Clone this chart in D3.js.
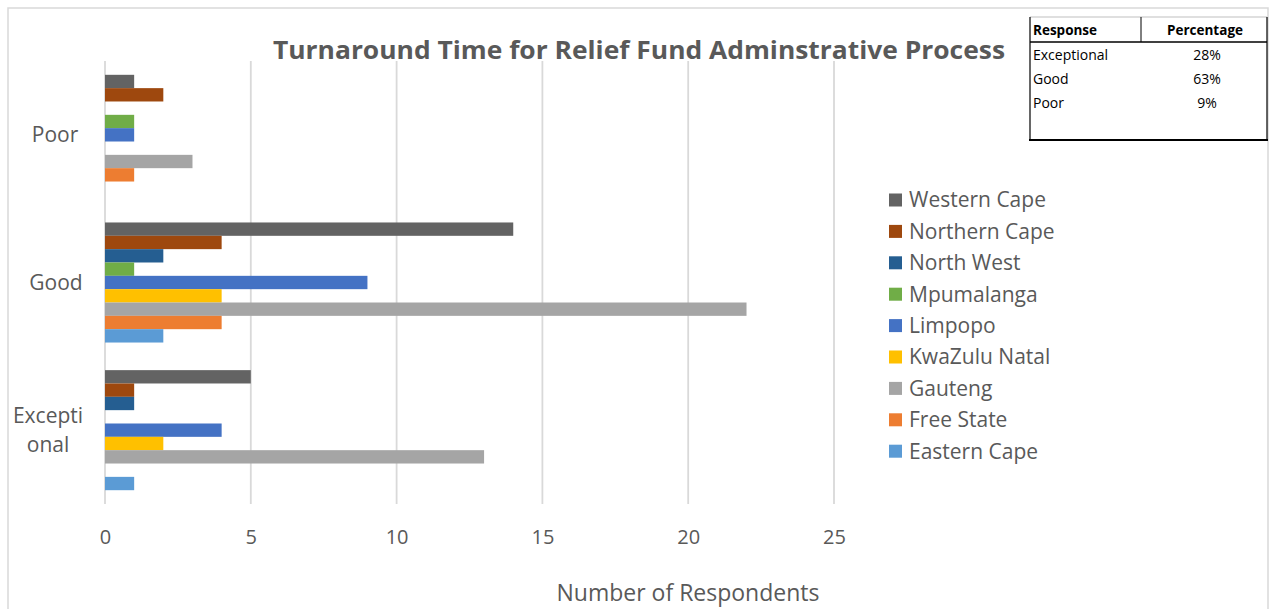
<!DOCTYPE html>
<html>
<head>
<meta charset="utf-8">
<script src="https://cdn.jsdelivr.net/npm/d3@7"></script>
<style>
  html, body { margin: 0; padding: 0; background: #ffffff; }
  svg { display: block; font-family: "Open Sans", "Noto Sans", sans-serif; }
</style>
</head>
<body>
<svg id="chart" width="1269" height="609"></svg>
<script>
// Response categories, top to bottom
const categories = ["Poor", "Good", "Exceptional"];

// Provinces, top to bottom within each category
const provinces = ["Western Cape", "Northern Cape", "North West", "Mpumalanga",
                   "Limpopo", "KwaZulu Natal", "Gauteng", "Free State", "Eastern Cape"];

// Number of respondents per province for Poor / Good / Exceptional
const westernCape  = [1, 14, 5];
const northernCape = [2, 4, 1];
const northWest    = [0, 2, 1];
const mpumalanga   = [1, 1, 0];
const limpopo      = [1, 9, 4];
const kwaZuluNatal = [0, 4, 2];
const gauteng      = [3, 22, 13];
const freeState    = [1, 4, 0];
const easternCape  = [0, 2, 1];

const provinceColors = ["#636363", "#9E480E", "#255E91", "#70AD47", "#4472C4",
                        "#FFC000", "#A5A5A5", "#ED7D31", "#5B9BD5"];

const xTicks = [0, 5, 10, 15, 20, 25];

// Summary table
const tableHeader = ["Response", "Percentage"];
const tableResponses = ["Exceptional", "Good", "Poor"];
const tablePercent = ["28%", "63%", "9%"];

const seriesValues = [westernCape, northernCape, northWest, mpumalanga, limpopo,
                      kwaZuluNatal, gauteng, freeState, easternCape];

const rows = [];
categories.forEach((c, ci) => {
  provinces.forEach((p, pi) => {
    rows.push({ category: c, province: p, value: seriesValues[pi][ci], color: provinceColors[pi] });
  });
});

const svg = d3.select("#chart");
const textColor = "#595959";
const gridColor = "#D9D9D9";

// Chart frame
svg.append("rect")
  .attr("x", 8).attr("y", 8).attr("width", 1260).attr("height", 620)
  .attr("fill", "#fff").attr("stroke", gridColor).attr("stroke-width", 1.5);

const plot = { left: 105, right: 834, top: 61, bottom: 504 };

const x = d3.scaleLinear().domain([0, 25]).range([plot.left, plot.right]);
const y = d3.scaleBand().domain(categories).range([plot.top, plot.bottom])
  .paddingInner(0.187).paddingOuter(0.0935);
const yInner = d3.scaleBand().domain(provinces).range([0, y.bandwidth()]).padding(0);

// Vertical gridlines
svg.append("g")
  .selectAll("line")
  .data(xTicks)
  .join("line")
  .attr("x1", d => x(d)).attr("x2", d => x(d))
  .attr("y1", plot.top).attr("y2", plot.bottom)
  .attr("stroke", gridColor).attr("stroke-width", 1.8);

// Bars
svg.append("g")
  .selectAll("rect")
  .data(rows.filter(d => d.value > 0))
  .join("rect")
  .attr("x", x(0))
  .attr("y", d => y(d.category) + yInner(d.province))
  .attr("width", d => x(d.value) - x(0))
  .attr("height", yInner.bandwidth())
  .attr("fill", d => d.color);

// X axis tick labels
const xAxis = d3.axisBottom(x).tickValues(xTicks).tickSize(0).tickPadding(0);
const gx = svg.append("g").attr("transform", `translate(0, ${537})`).call(xAxis);
gx.select(".domain").remove();
gx.selectAll("text")
  .attr("dy", "0.35em")
  .attr("font-size", 20)
  .attr("font-family", "'Open Sans', sans-serif")
  .attr("fill", textColor);

// Category labels (Exceptional wraps onto two lines)
const catLines = { Poor: ["Poor"], Good: ["Good"], Exceptional: ["Excepti", "onal"] };
const catX = { Poor: 55, Good: 56, Exceptional: 48 };
const gy = svg.append("g");
categories.forEach(c => {
  const lines = catLines[c];
  const cy = y(c) + y.bandwidth() / 2;
  const t = gy.append("text")
    .attr("x", catX[c]).attr("text-anchor", "middle")
    .attr("font-size", 21).attr("fill", textColor);
  lines.forEach((l, i) => {
    t.append("tspan").attr("x", catX[c])
      .attr("y", cy + (i - (lines.length - 1) / 2) * 29)
      .attr("dy", "0.35em").text(l);
  });
});

// Title
svg.append("text")
  .attr("x", 639).attr("y", 50)
  .attr("text-anchor", "middle").attr("dy", "0.35em")
  .attr("font-size", 25).attr("font-weight", "bold")
  .attr("fill", textColor)
  .attr("textLength", 732).attr("lengthAdjust", "spacingAndGlyphs")
  .text("Turnaround Time for Relief Fund Adminstrative Process");

// Axis title
svg.append("text")
  .attr("x", 688).attr("y", 593)
  .attr("text-anchor", "middle").attr("dy", "0.35em")
  .attr("font-size", 23).attr("fill", textColor)
  .text("Number of Respondents");

// Legend
const legend = svg.append("g");
provinces.forEach((p, i) => {
  const ly = 200 + i * 31.4;
  legend.append("rect")
    .attr("x", 889).attr("y", ly - 6.5).attr("width", 13).attr("height", 13)
    .attr("fill", provinceColors[i]);
  legend.append("text")
    .attr("x", 909).attr("y", ly).attr("dy", "0.35em")
    .attr("font-size", 21).attr("fill", textColor).text(p);
});

// Summary table
const tb = { left: 1030, right: 1267, top: 17, head: 42, bottom: 140, split: 1141 };
const tg = svg.append("g");
tg.append("rect")
  .attr("x", tb.left).attr("y", tb.top)
  .attr("width", tb.right - tb.left).attr("height", tb.bottom - tb.top)
  .attr("fill", "#fff");
tg.append("line").attr("x1", tb.left).attr("x2", tb.right)
  .attr("y1", tb.top).attr("y2", tb.top).attr("stroke", "#BFBFBF").attr("stroke-width", 1);
tg.append("line").attr("x1", tb.left).attr("x2", tb.left)
  .attr("y1", tb.top).attr("y2", tb.bottom).attr("stroke", "#000").attr("stroke-width", 1.2);
tg.append("line").attr("x1", tb.right).attr("x2", tb.right)
  .attr("y1", tb.top).attr("y2", tb.bottom).attr("stroke", "#000").attr("stroke-width", 1.2);
tg.append("line").attr("x1", tb.split).attr("x2", tb.split)
  .attr("y1", tb.top).attr("y2", tb.head).attr("stroke", "#000").attr("stroke-width", 1);
tg.append("line").attr("x1", tb.left).attr("x2", tb.right)
  .attr("y1", tb.head).attr("y2", tb.head).attr("stroke", "#000").attr("stroke-width", 1.5);
tg.append("line").attr("x1", tb.left - 1).attr("x2", tb.right + 1)
  .attr("y1", tb.bottom).attr("y2", tb.bottom).attr("stroke", "#000").attr("stroke-width", 2.2);

tg.append("text").attr("x", 1033).attr("y", 30).attr("dy", "0.35em")
  .attr("font-size", 13.5).attr("font-weight", "bold").attr("fill", "#000").text(tableHeader[0]);
tg.append("text").attr("x", 1205).attr("y", 30).attr("dy", "0.35em").attr("text-anchor", "middle")
  .attr("font-size", 13.5).attr("font-weight", "bold").attr("fill", "#000").text(tableHeader[1]);
tableResponses.forEach((r, i) => {
  const ry = 55 + i * 24;
  tg.append("text").attr("x", 1033).attr("y", ry).attr("dy", "0.35em")
    .attr("font-size", 14).attr("fill", "#000").text(r);
  tg.append("text").attr("x", 1207).attr("y", ry).attr("dy", "0.35em").attr("text-anchor", "middle")
    .attr("font-size", 14).attr("fill", "#000").text(tablePercent[i]);
});
</script>
</body>
</html>
